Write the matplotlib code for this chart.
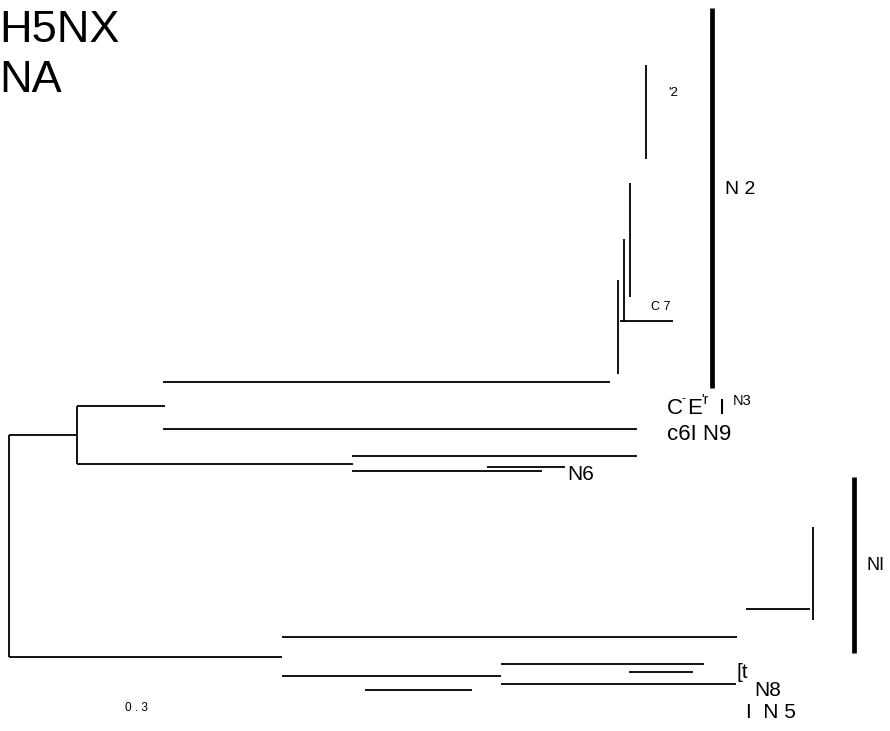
import matplotlib
matplotlib.use("Agg")
import matplotlib.pyplot as plt

plt.rcParams['font.family'] = ['Liberation Sans', 'DejaVu Sans']

# Tree branches (horizontal): start, end, row position
h_start = [163, 77, 163, 9, 77, 352, 487, 352, 620, 746, 9, 282, 282, 501, 629, 501, 365]
h_end   = [610, 165, 637, 77, 353, 637, 565, 542, 673, 810, 282, 737, 501, 704, 693, 736, 472]
h_row   = [382, 406, 429, 435, 464, 456, 467, 471, 321, 609, 657, 637, 676, 664, 672, 684, 690]

# Vertical connectors: position, top, bottom
v_pos    = [9, 77, 646, 630, 624, 618, 813]
v_top    = [435, 406, 65, 183, 239, 280, 527]
v_bottom = [657, 464, 159, 297, 322, 374, 620]

# Clade bars
bar_pos    = [712, 854]
bar_top    = [8, 477]
bar_bottom = [388, 653]

fig = plt.figure(figsize=(8.9, 7.31), dpi=100)
ax = fig.add_axes([0, 0, 1, 1])
ax.set_xlim(0, 890)
ax.set_ylim(731, 0)
ax.axis('off')

for x0, x1, y in zip(h_start, h_end, h_row):
    ax.plot([x0, x1], [y, y], color='black', lw=1.3, solid_capstyle='butt')
for x, y0, y1 in zip(v_pos, v_top, v_bottom):
    ax.plot([x, x], [y0, y1], color='black', lw=1.3, solid_capstyle='butt')
for x, y0, y1 in zip(bar_pos, bar_top, bar_bottom):
    ax.plot([x, x], [y0, y1], color='black', lw=3.4, solid_capstyle='butt')

ax.text(-1, 30, 'H5NX', fontsize=32.5, va='center', ha='left')
ax.text(-1, 81, 'NA', fontsize=32.5, va='center', ha='left')
ax.text(668, 93, "'2", fontsize=9.5, va='center', ha='left')
ax.text(725, 190, 'N 2', fontsize=14, va='center', ha='left')
ax.text(651, 307, 'C 7', fontsize=9, va='center', ha='left')
ax.text(667, 409, 'C', fontsize=16, va='center', ha='left')
ax.text(682, 399, '-', fontsize=9, va='center', ha='left')
ax.text(687, 409, 'E', fontsize=16, va='center', ha='left')
ax.text(701, 400, "'r", fontsize=10, va='center', ha='left')
ax.text(719, 409, 'I', fontsize=16, va='center', ha='left')
ax.text(733, 401, 'N3', fontsize=10.5, va='center', ha='left')
ax.text(667, 434, 'c6I N9', fontsize=16, va='center', ha='left')
ax.text(567, 474, 'N6', fontsize=15, va='center', ha='left')
ax.text(866, 565, 'NI', fontsize=13, va='center', ha='left')
ax.text(737, 673, '[t', fontsize=15, va='center', ha='left')
ax.text(754, 691, 'N8', fontsize=15, va='center', ha='left')
ax.text(746, 713, 'I  N 5', fontsize=15, va='center', ha='left')
ax.text(125, 708, '0 . 3', fontsize=8.5, va='center', ha='left')

fig.savefig('out.png', dpi=100)
